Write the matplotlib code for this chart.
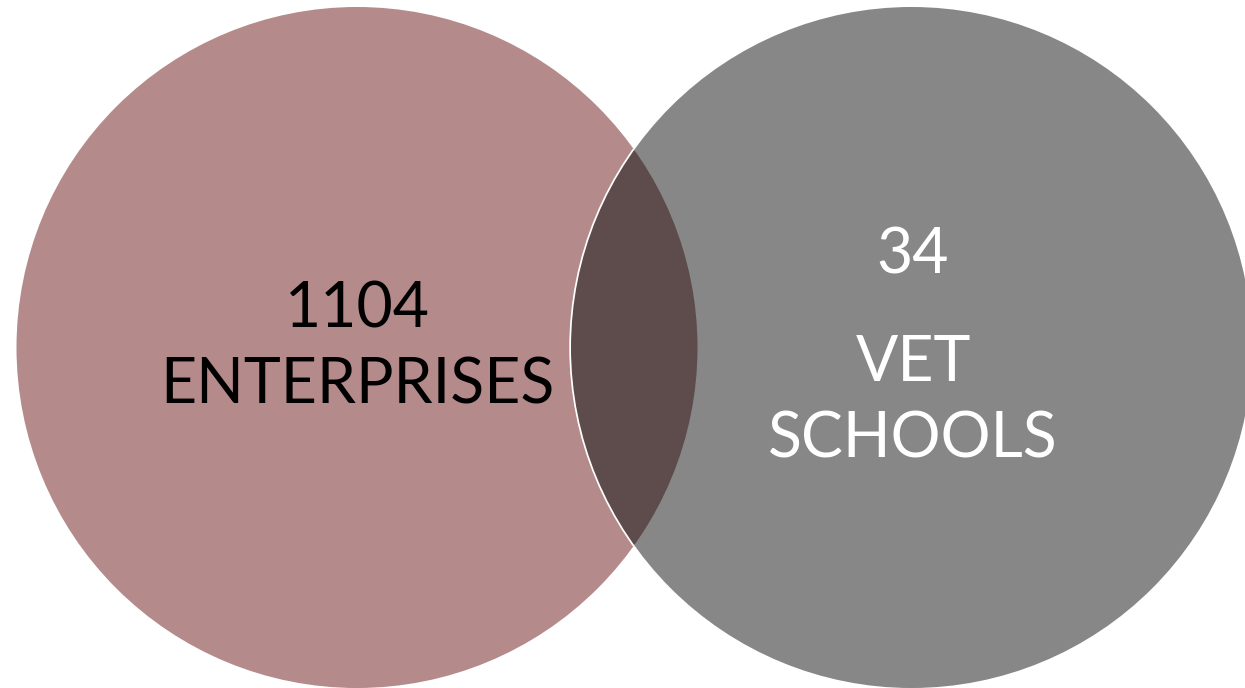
import matplotlib
matplotlib.use("Agg")
import matplotlib.pyplot as plt
from matplotlib.patches import Circle

plt.rcParams["font.family"] = ["Lato", "DejaVu Sans"]

# data
set_labels = ["ENTERPRISES", "VET\nSCHOOLS"]
set_counts = [1104, 34]
set_colors = ["#B58A8B", "#878787"]
overlap_color = "#5E4B4C"

# geometry (pixel units, y downward)
centers = [(357, 347.5), (911.5, 347.5)]
radius = 340.5

fig = plt.figure(figsize=(12.45, 6.88), dpi=100)
ax = fig.add_axes([0, 0, 1, 1])
ax.set_xlim(0, 1245)
ax.set_ylim(688, 0)
ax.axis("off")

left = Circle(centers[0], radius, facecolor=set_colors[0], edgecolor="none", zorder=1)
ax.add_patch(left)
right = Circle(centers[1], radius, facecolor=set_colors[1], edgecolor="none", zorder=2)
ax.add_patch(right)

# white rim of the right circle, visible only over the left circle
rim = Circle(centers[1], radius, facecolor="none", edgecolor="white",
             linewidth=2.5, zorder=2.5)
ax.add_patch(rim)
rim.set_clip_path(Circle(centers[0], radius, transform=ax.transData))

# overlap lens: right circle clipped to left circle
lens = Circle(centers[1], radius, facecolor=overlap_color, edgecolor="none", zorder=3)
ax.add_patch(lens)
lens.set_clip_path(Circle(centers[0], radius, transform=ax.transData))

# labels
txt = dict(ha="center", va="center", fontsize=45, fontweight="normal", zorder=5)
ax.text(357, 310, str(set_counts[0]), color="black", **txt)
ax.text(357, 386, set_labels[0], color="black", **txt)

ax.text(913, 255, str(set_counts[1]), color="white", **txt)
vet_lines = set_labels[1].split("\n")
ax.text(913, 363, vet_lines[0], color="white", **txt)
ax.text(913, 439, vet_lines[1], color="white", **txt)

fig.savefig("out.png", dpi=100, facecolor="white")
